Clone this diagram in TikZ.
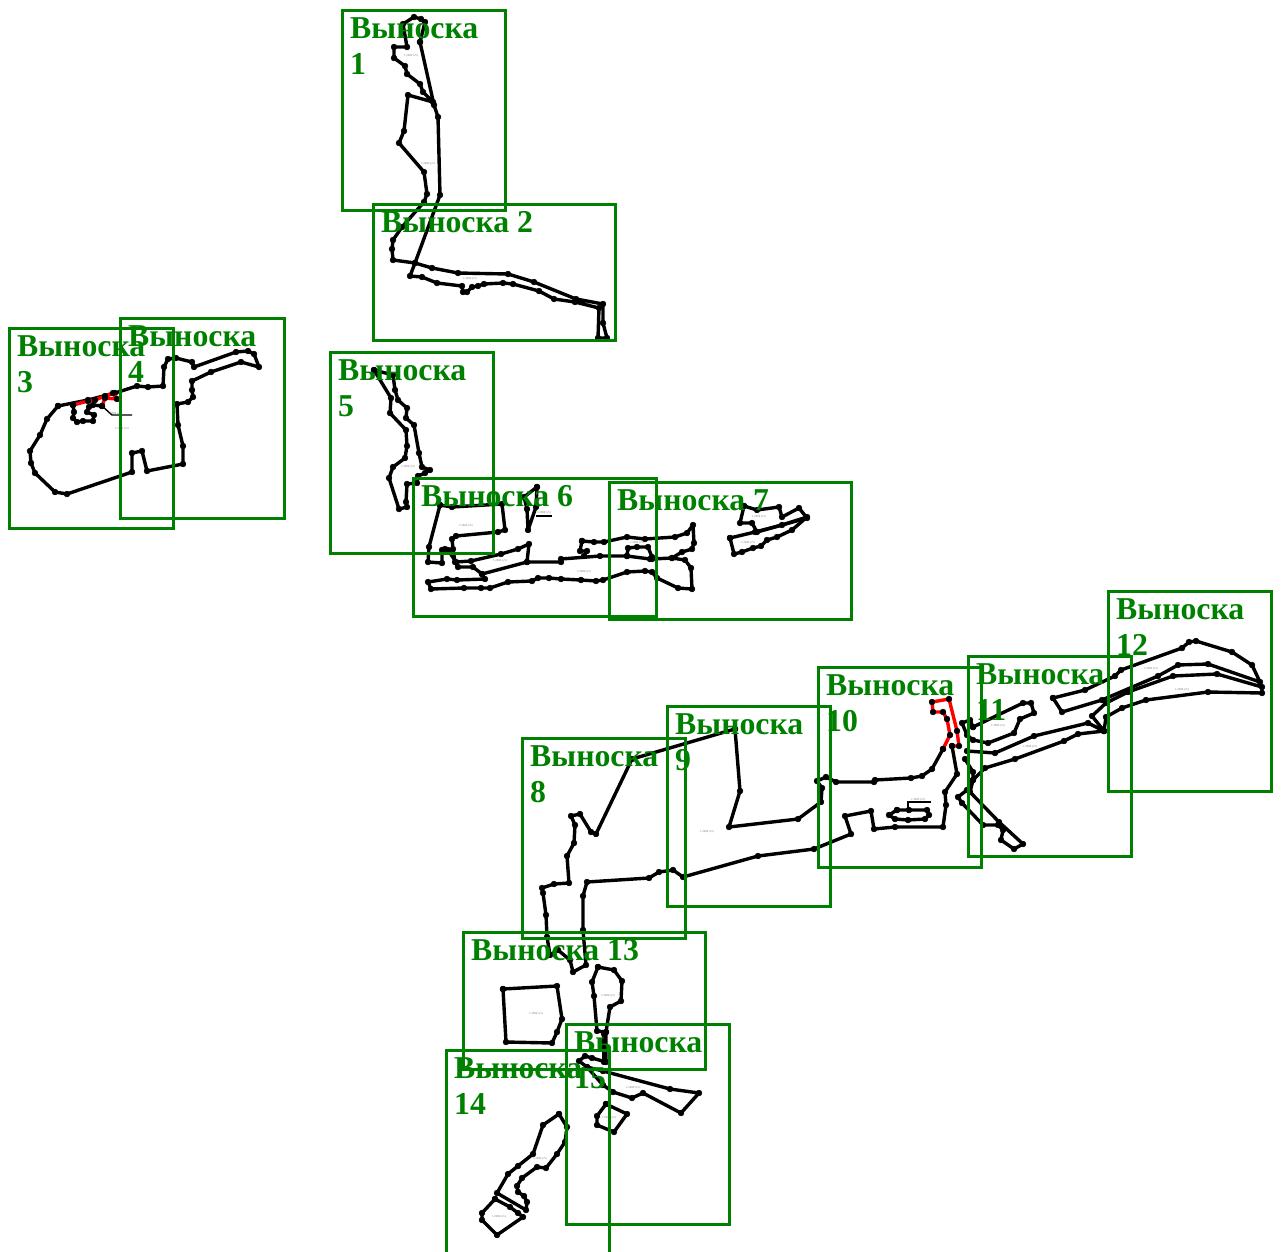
\documentclass[tikz,border=0pt]{standalone}
\usepackage{fontspec}
\setmainfont{Liberation Serif}
\definecolor{calloutgreen}{RGB}{0,128,0}
\tikzset{
  trace/.style={line width=3.4pt, line join=round, black, mark=*, mark size=3pt, mark options={fill=black, draw=black, line width=0.3pt}},
  redtrace/.style={trace, red},
  leader/.style={line width=1.4pt, black},
  calloutedge/.style={line width=3.2pt, calloutgreen},
  calloutlabel/.style={anchor=north west, inner sep=0pt, align=left, text=calloutgreen, font=\fontsize{31.8}{36}\selectfont\bfseries},
  tinytext/.style={inner sep=0pt, text=black!50, font=\fontsize{3}{3}\selectfont}
}
\def\callout[#1](#2,#3)(#4,#5)#6{\draw[calloutedge] (#2-0.5,#3-0.5) rectangle (#4-0.5,#5-0.5); \node[calloutlabel] (#1) at (#2+7,#3+6) {#6};}

\begin{document}
\begin{tikzpicture}[x=1pt,y=-1pt]
	\useasboundingbox (0,0) rectangle (1282,1251);
	%%%%% START %%%%%

	% callouts 1, 2
	\draw[trace] plot coordinates {(420,42) (425,22) (421,19) (414,17) (403,24) (407,47) (394,47) (394,58) (405,66) (407,74) (420,84) (423,92) (433,102) (408,95) (404,131) (399,143) (424,172) (427,194) (424,202) (402,227) (393,240) (392,249) (393,260) (415,263) (432,268) (458,273) (508,274) (534,282) (576,299) (603,304) (603,323) (607,338) (598,338) (599,308) (575,302) (554,299) (539,291) (513,284) (503,283) (484,284) (478,286) (472,287) (467,292) (463,292) (462,286) (437,283) (422,277) (410,276) (415,263) (440,195) (438,117) (434,105) (420,42)};

	% callouts 3, 4
	\draw[trace] plot coordinates {(58,406) (47,419) (40,435) (30,451) (31,463) (35,473) (55,492) (67,494) (132,472) (132,453) (142,451) (147,471) (183,464) (183,446) (178,425) (177,404) (188,402) (193,397) (192,390) (192,381) (211,372) (241,362) (259,367) (254,354) (248,351) (236,352) (194,367) (192,362) (176,358) (168,359) (164,367) (163,386) (148,387) (137,386) (115,393) (88,400) (58,406)};
	\draw[redtrace] plot coordinates {(73,405) (88,401) (95,400) (105,396) (113,393) (117,399) (105,398) (102,406)};
	\draw[trace] plot coordinates {(73,405) (74,412) (73,418) (77,422) (83,421) (93,421) (94,415) (87,412) (89,407) (93,405) (102,406)};
	\draw[leader] (102,406) -- (112,415) -- (132,415);

	% callouts 5, 6, 7
	\draw[trace] plot coordinates {(374,370) (393,375) (395,390) (398,400) (407,408) (406,418) (414,425) (419,453) (422,467) (430,470) (425,473) (418,476) (417,483) (407,484) (406,502) (407,507) (399,509) (389,478) (393,467) (405,458) (407,446) (406,430) (390,413) (391,398) (374,370)};
	\draw[trace] plot coordinates {(440,505) (452,507) (502,504) (505,530) (498,532) (456,536) (452,539) (453,549) (455,562) (458,567) (473,567) (482,574) (485,579) (457,580) (447,579) (428,582) (431,589) (464,588) (481,588) (490,588) (508,582) (532,581) (538,578) (549,578) (561,579) (581,580) (596,581) (603,580) (627,572) (645,571) (652,572) (657,578) (678,588) (692,589) (691,568) (685,560) (672,558) (652,559) (650,559) (627,556) (600,556) (561,559) (561,562) (527,562) (482,574)};
	\draw[trace] plot coordinates {(440,505) (429,547) (428,562) (442,563) (442,550) (445,549) (448,550) (456,562) (471,561) (501,554) (518,549) (529,544) (527,562)};
	\draw[trace] plot coordinates {(537,487) (536,507) (528,530) (527,509) (524,497) (537,487)};
	\draw[leader] (536,516) -- (552,516);
	\draw[trace] plot coordinates {(582,541) (594,542) (604,542) (627,537) (645,539) (675,537) (687,533) (693,525) (694,543) (692,549) (682,552) (672,558)};
	\draw[trace] plot coordinates {(582,541) (580,551) (587,551) (584,556)};
	\draw[trace] plot coordinates {(627,556) (628,548) (637,547) (648,547) (652,557)};
	\draw[trace] plot coordinates {(744,506) (757,510) (779,507) (782,517) (799,508) (807,518) (757,532) (752,523) (740,523) (744,506)};
	\draw[trace] plot coordinates {(730,538) (755,532) (782,525) (807,517) (792,530) (777,537) (767,540) (761,546) (753,548) (742,552) (734,554) (730,538)};

	% callouts 8, 9, 10
	\draw[trace] plot coordinates {(735,729) (740,791) (729,827) (798,819) (821,802) (822,788) (817,781) (826,777) (836,782) (874,782) (875,780) (911,778) (922,776) (932,769) (943,749)};
	\draw[redtrace] plot coordinates {(943,749) (950,735) (947,719) (943,712) (933,712) (932,702) (949,699) (957,731) (959,746) (952,746)};
	\draw[trace] plot coordinates {(952,746) (957,774) (945,792) (946,805) (943,827) (895,827) (874,829) (871,811) (845,816) (851,834) (814,849) (758,856) (683,877) (673,870) (659,872) (649,878) (587,882) (583,896) (583,930) (586,965) (573,972) (570,960) (558,950) (550,955) (547,937) (546,915) (543,893) (542,888) (554,884) (569,883) (567,856) (574,843) (575,825) (571,816) (580,814) (591,832) (596,834) (632,759) (735,729)};
	\draw[trace] plot coordinates {(897,810) (909,810) (927,810) (929,815) (925,819) (908,820) (895,819) (889,815) (897,810)};
	\draw[leader] (908,813) -- (908,802) -- (931,802);

	% callouts 11, 12
	\draw[trace] plot coordinates {(973,727) (970,720) (962,723) (967,735) (973,740) (988,743) (1014,733) (1020,719) (1034,713) (1031,703) (1023,703) (973,727)};
	\draw[trace] plot coordinates {(967,751) (995,753) (1034,736) (1088,723) (1104,731) (1078,734) (1064,741) (1015,759) (985,768) (973,780) (967,790) (958,797) (962,803) (983,825) (998,825) (1003,830) (1001,840) (1014,849) (1023,844) (999,822) (970,792) (973,780) (973,772) (965,759)};
	\draw[trace] plot coordinates {(1053,698) (1085,690) (1115,676) (1121,670) (1182,648) (1189,642) (1196,641) (1232,652) (1252,665) (1260,682) (1208,664) (1178,665) (1158,676) (1102,700) (1062,712) (1053,698)};
	\draw[trace] plot coordinates {(1104,731) (1106,717) (1122,708) (1146,700) (1208,692) (1262,693) (1262,687) (1217,674) (1173,676) (1128,692) (1106,703) (1092,716) (1104,731)};

	% callouts 13, 14, 15
	\draw[trace] plot coordinates {(503,989) (557,986) (562,1019) (557,1032) (552,1043) (506,1042) (503,989)};
	\draw[trace] plot coordinates {(598,967) (614,970) (622,981) (621,1001) (610,1007) (606,1032) (606,1062) (592,1058) (585,1056) (579,1061) (587,1067) (603,1071) (670,1089) (699,1093) (681,1113) (643,1093) (632,1098) (613,1092) (603,1085) (587,1067)};
	\draw[trace] plot coordinates {(606,1032) (597,1031) (594,996) (592,982) (598,967)};
	\draw[trace] plot coordinates {(604,1034) (604,1062)};
	\draw[trace] plot coordinates {(606,1104) (627,1114) (614,1132) (597,1125) (597,1116) (606,1104)};
	\draw[trace] plot coordinates {(559,1114) (567,1127) (565,1142) (557,1154) (546,1168) (537,1167) (522,1178) (517,1186) (518,1192) (524,1196) (527,1202) (526,1210) (497,1193) (508,1174) (518,1166) (533,1154) (543,1125) (559,1114)};
	\draw[trace] plot coordinates {(495,1199) (510,1207) (518,1213) (523,1217) (497,1235) (482,1220) (482,1213) (495,1199)};

	% small scale notes
	\foreach \nx/\ny [count=\i] in {411/56,428/164,470/279,115/414,122/429,408/467,466/526,500/561,584/572,544/513,637/543,759/517,748/543,707/832,918/800,998/726,1030/747,1151/669,1182/690,536/1014,608/996,633/1088,609/1118,540/1159,499/1217}
		\node[tinytext] (note\i) at (\nx,\ny) {1:2000 (c5)};

	\callout[label1](343,11)(506,211){Выноска\\1}
	\callout[label2](374,205)(616,341){Выноска 2}
	\callout[label3](10,329)(174,529){Выноска\\3}
	\callout[label4](121,319)(285,519){Выноска\\4}
	\callout[label5](331,353)(494,554){Выноска\\5}
	\callout[label6](414,479)(657,617){Выноска 6}
	\callout[label7](610,483)(852,620){Выноска 7}
	\callout[label8](523,739)(686,939){Выноска\\8}
	\callout[label9](668,707)(831,907){Выноска\\9}
	\callout[label10](819,668)(982,868){Выноска\\10}
	\callout[label11](969,657)(1132,857){Выноска\\11}
	\callout[label12](1109,592)(1272,792){Выноска\\12}
	\callout[label13](464,933)(706,1070){Выноска 13}
	\callout[label14](447,1051)(610,1260){Выноска\\14}
	\callout[label15](567,1025)(730,1225){Выноска\\15}

	%%%%% END %%%%%
\end{tikzpicture}
\end{document}
